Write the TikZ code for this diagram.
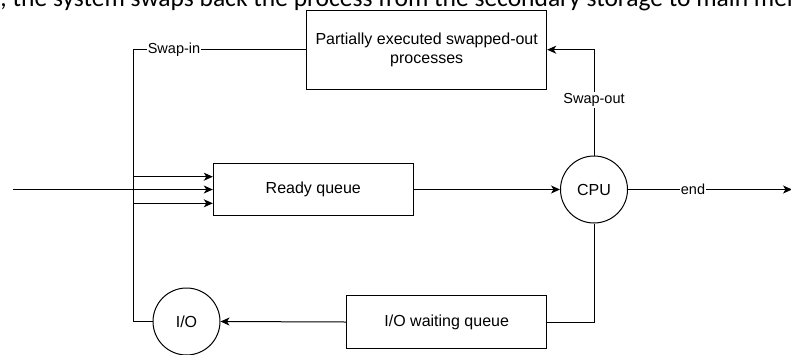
\documentclass[tikz,border=0pt]{standalone}
\usepackage{fontspec}
\setmainfont{Liberation Sans}
\newfontfamily\bodyfont{Carlito}
\usetikzlibrary{arrows.meta}
\begin{document}
\begin{tikzpicture}[x=1pt,y=-1pt,
  line width=1pt,
  boxnode/.style={draw, rectangle, inner sep=0pt, font=\fontsize{16}{19}\selectfont, align=center},
  circnode/.style={draw, circle, minimum size=67pt, inner sep=0pt, font=\fontsize{16}{19}\selectfont},
  arr/.style={-{Stealth[length=9pt,width=8pt,inset=2.5pt]}},
  lbl/.style={fill=white, inner sep=1pt, font=\fontsize{14.5}{17}\selectfont}]
\useasboundingbox (0,0) rectangle (791,354);
\clip (0,0) rectangle (791,354);
\fill[white] (0,0) rectangle (791,354);
% clipped line of the surrounding page text
\node[anchor=base west, inner sep=0pt, font=\bodyfont\fontsize{25.5}{30}\selectfont] (pagetext) at (0,6) {, the system swaps back the process from the secondary storage to main memory};
% nodes
\node[boxnode, minimum width=240pt, minimum height=79pt] (swap) at (426.7,49.7) {Partially executed swapped-out\\processes};
\node[boxnode, minimum width=200pt, minimum height=52.4pt] (ready) at (313.3,189.5) {Ready queue};
\node[boxnode, minimum width=200pt, minimum height=52.6pt] (iowait) at (446.7,322) {I/O waiting queue};
\node[circnode] (cpu) at (594,189.5) {CPU};
\node[circnode] (io) at (186.5,321.5) {I/O};
\coordinate (inlet) at (13,189.5);
\coordinate (outlet) at (792,189.5);
\coordinate (swapin) at (133,49.7);
\coordinate (ioleft) at (133,321.5);
% connectors
\draw[arr] (swap.west) -- (swapin) |- ([yshift=-13.8pt]ready.west);
\node[lbl] (swapinlbl) at (174,49.7) {Swap-in};
\draw[arr] (inlet) -- (ready.west);
\draw[arr] (io.west) -- (ioleft) |- ([yshift=12.8pt]ready.west);
\draw[arr] (ready.east) -- (cpu.west);
\draw[arr] (cpu.east) -- (outlet);
\node[lbl] (endlbl) at (693,189.5) {end};
\draw[arr] (cpu.north) |- (swap.east);
\node[lbl] (swapoutlbl) at (594,100) {Swap-out};
\draw (cpu.south) |- (iowait.east);
\draw[arr] (iowait.west) -- (io.east);
\end{tikzpicture}
\end{document}
